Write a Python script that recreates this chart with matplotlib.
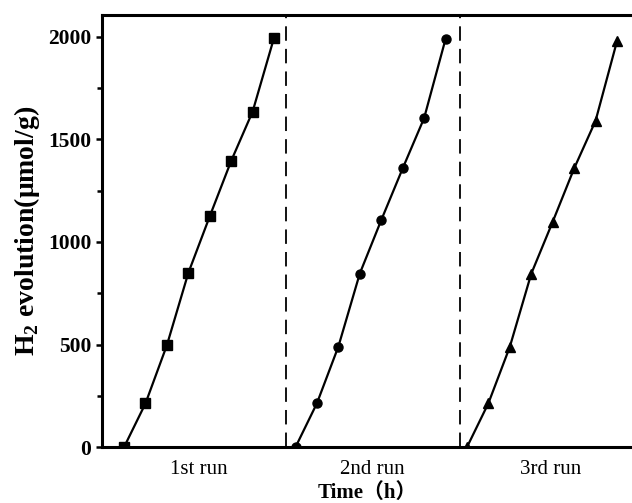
import numpy as np
import matplotlib
matplotlib.use('Agg')
import matplotlib.pyplot as plt
from matplotlib.ticker import MultipleLocator

plt.rcParams['font.family'] = ['Liberation Serif', 'Noto Sans CJK SC']
plt.rcParams['mathtext.fontset'] = 'custom'
plt.rcParams['mathtext.rm'] = 'Liberation Serif'
plt.rcParams['mathtext.bf'] = 'Liberation Serif:bold'

# Время, ч (точки каждые 0.5 ч)
t_run = [0, 0.5, 1.0, 1.5, 2.0, 2.5, 3.0, 3.5]
run_offsets = [0, 4, 8]

# Выделение H2, мкмоль/г
h2_run1 = [0, 213, 497, 849, 1125, 1395, 1635, 1995]
h2_run2 = [0, 214, 490, 846, 1106, 1358, 1603, 1988]
h2_run3 = [0, 214, 489, 845, 1098, 1358, 1590, 1978]

run_labels = ['1st run', '2nd run', '3rd run']
label_pos = [1.75, 5.8, 9.95]
sep_pos = [3.78, 7.84]

fig = plt.figure(figsize=(6.32, 5.03), dpi=100)
ax = fig.add_axes([0.161, 0.111, 0.839, 0.859])

markers = ['s', 'o', '^']
msizes = [6.5, 6.5, 7.5]
for off, h2, m, ms in zip(run_offsets, [h2_run1, h2_run2, h2_run3], markers, msizes):
    ax.plot(np.array(t_run) + off, h2, color='k', lw=1.6, marker=m, ms=ms)

for xs in sep_pos:
    ax.axvline(xs, color='k', lw=1.3, ls=(0, (8, 4.5)))

ax.set_xlim(-0.52, 11.85)
ax.set_ylim(0, 2105)

ax.set_xticks(label_pos)
ax.set_xticklabels(run_labels, fontsize=15)
ax.tick_params(axis='x', length=0, pad=9)

ax.yaxis.set_major_locator(MultipleLocator(500))
ax.yaxis.set_minor_locator(MultipleLocator(250))
ax.tick_params(axis='y', which='major', length=4, width=1.8, pad=3.5, labelsize=15.5)
ax.tick_params(axis='y', which='minor', length=3.5, width=1.8)
for lbl in ax.get_yticklabels():
    lbl.set_fontweight('bold')

for s in ['left', 'bottom', 'top']:
    ax.spines[s].set_linewidth(2.2)
ax.spines['right'].set_visible(False)

ax.set_ylabel(r'H$_\mathbf{2}$ evolution(μmol/g)', fontsize=20, fontweight='bold', labelpad=4)
ax.set_xlabel('Time（h）', fontsize=15, fontweight='bold', labelpad=3)

plt.savefig('out.png', dpi=100)
